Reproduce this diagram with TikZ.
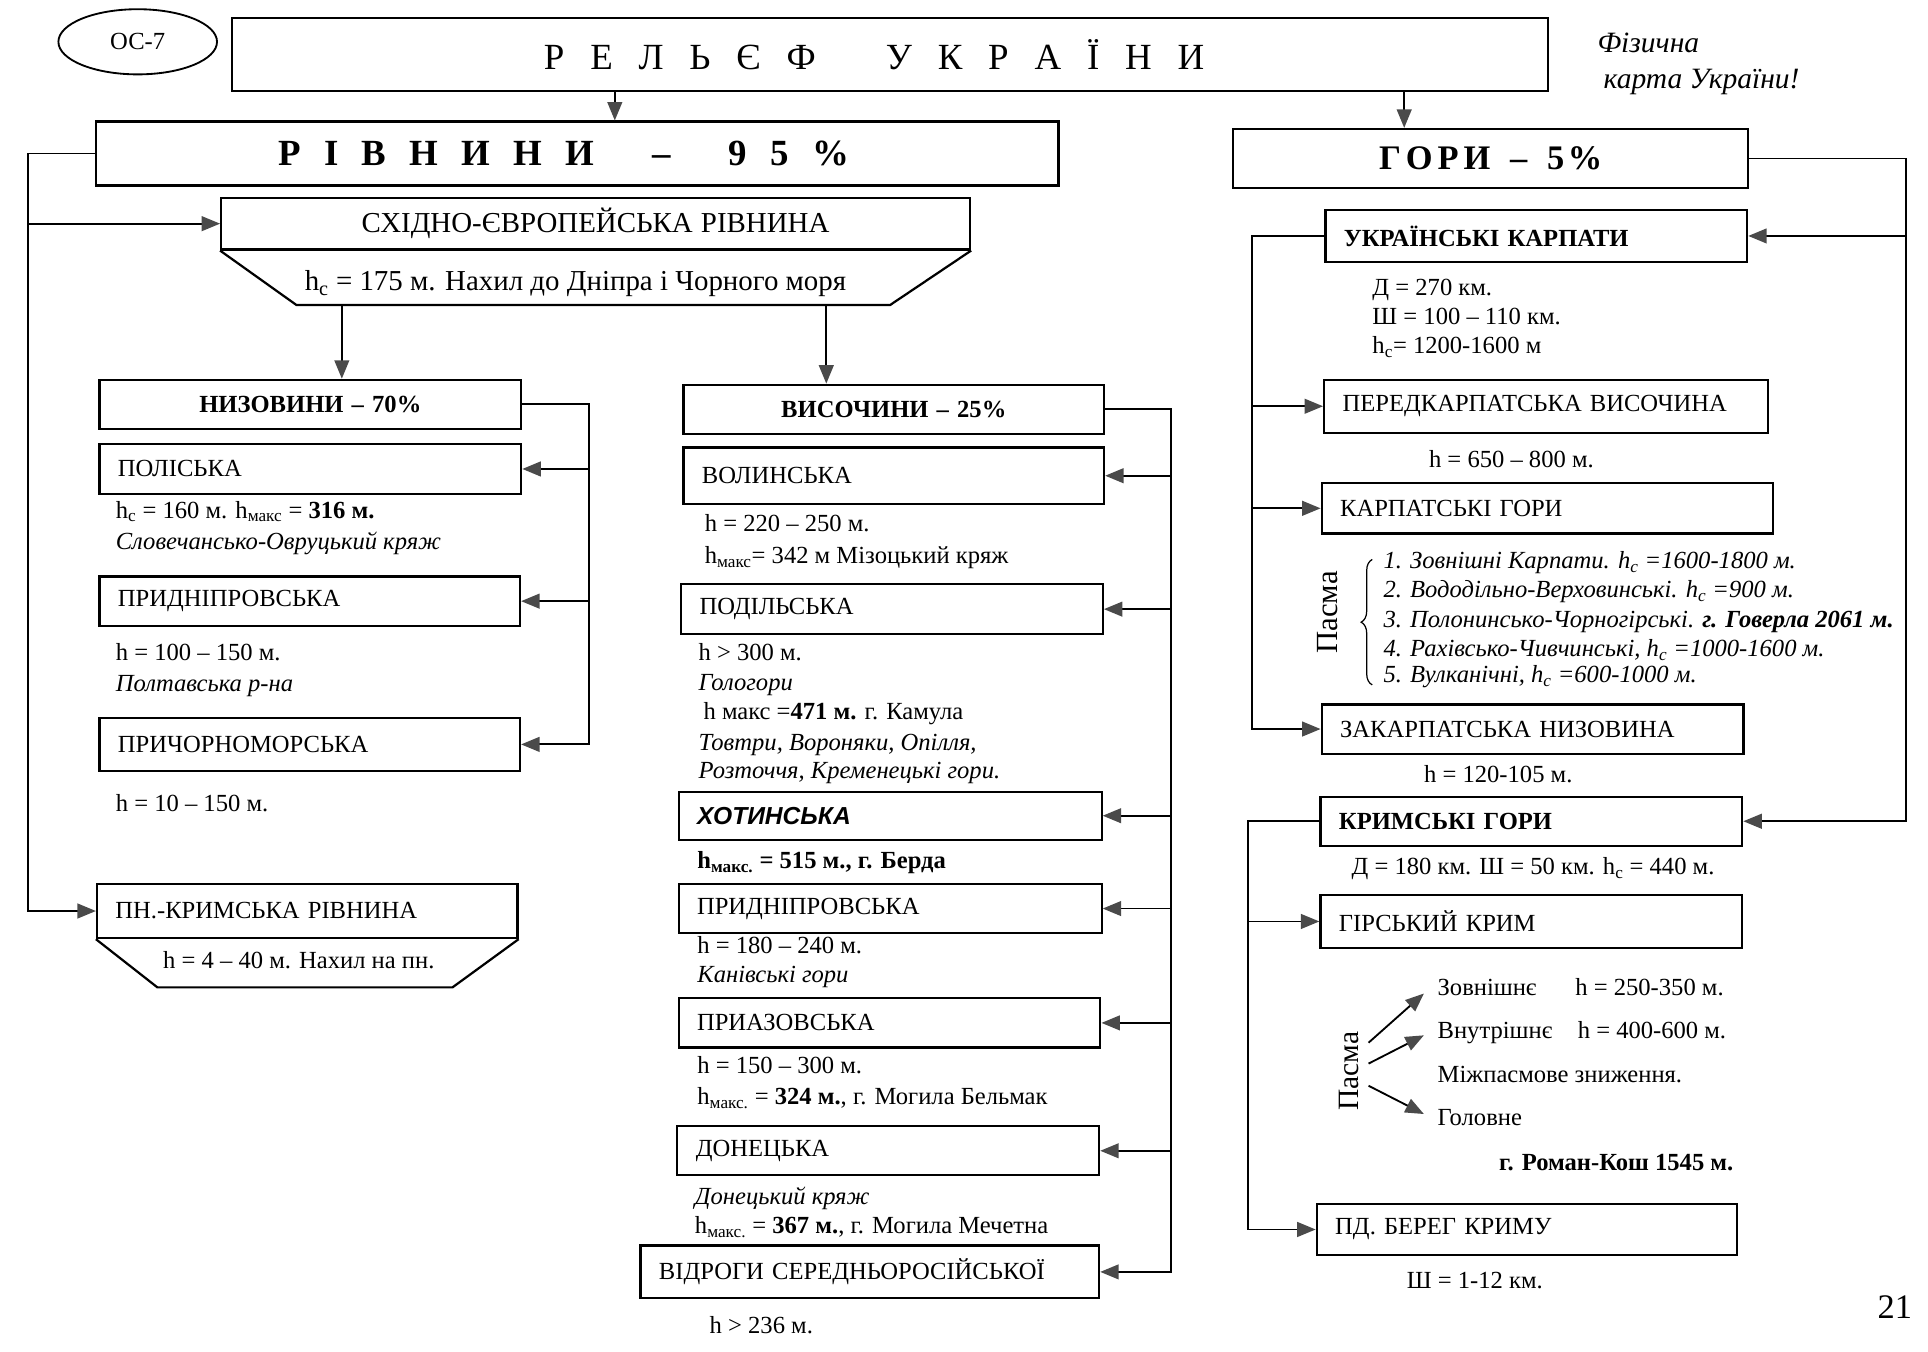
\documentclass[tikz,border=0pt]{standalone}
\usepackage{fontspec}
\setmainfont{Liberation Serif}
\newfontfamily\hsans{Liberation Sans}
\usetikzlibrary{arrows.meta,decorations.pathreplacing,shapes.geometric}
\definecolor{tipgray}{HTML}{4A4A4A}
\newcommand\tsp{\hspace{21pt}}
\newcommand\twd{\hspace{57pt}}
\newcommand\rsp{\hspace{19pt}}
\newcommand\rdsh{\hspace{47pt}}
% box: [align]{name}{x1}{y1}{x2}{y2}{text}
\newcommand\bx[7][left]{%
  \pgfmathsetmacro\bxw{#5-#3-30}\pgfmathsetmacro\bxh{#6-#4}%
  \node[box,align=#1,anchor=north west,text width=\bxw pt,minimum height=\bxh pt] (#2) at (#3,#4) {#7};}
\tikzset{
  box/.style={draw, line width=1.8pt, inner xsep=15pt, inner ysep=1pt, font=\fontsize{20}{24}\selectfont},
  lnk/.style={line width=1.5pt},
  arr/.style={line width=1.5pt, -{Triangle[length=15pt,width=12pt,color=tipgray]}},
  txt/.style={inner sep=0pt, anchor=mid west, font=\fontsize{20}{24}\selectfont},
  itx/.style={inner sep=0pt, anchor=mid west, font=\fontsize{20}{24}\selectfont\itshape},
}
\begin{document}
\begin{tikzpicture}[x=1pt,y=-1pt]
\fill[white] (0,0) rectangle (1568,1099);
\useasboundingbox (0,0) rectangle (1568,1099);

% header
\node[draw, ellipse, line width=1.5pt, minimum width=129pt, minimum height=53pt, font=\fontsize{20}{24}\selectfont] (oc) at (112,34) {ОС-7};
\node[box, anchor=north west, minimum width=1070pt, minimum height=59pt, inner xsep=0pt, font=\fontsize{30}{34}\selectfont] (title) at (188,14)
  {Р\tsp Е\tsp Л\tsp Ь\tsp Є\tsp Ф\twd У\tsp К\tsp Р\tsp А\tsp Ї\tsp Н\tsp И\kern26pt};
\node[itx, font=\fontsize{24}{28}\selectfont\itshape] (fiz1) at (1299,40) {Фізична};
\node[itx, font=\fontsize{24}{28}\selectfont\itshape] (fiz2) at (1304,70) {карта України!};

\node[box, anchor=north west, minimum width=783pt, minimum height=52pt, inner xsep=0pt, font=\fontsize{30}{34}\selectfont\bfseries] (riv) at (77,98)
  {Р\rsp І\rsp В\rsp Н\rsp И\rsp Н\rsp И\rdsh –\rdsh 9\rsp 5\rsp \%\kern22pt};
\node[box, anchor=north west, minimum width=419pt, minimum height=48pt, inner xsep=0pt, font=\fontsize{28}{32}\selectfont\bfseries] (gory) at (1002,104)
  {Г\hspace{4pt}О\hspace{4pt}Р\hspace{4pt}И\hspace{16pt}–\hspace{16pt}5\hspace{3pt}\%};

\coordinate (ta1) at (500,0);
\coordinate (ta2) at (1142,0);
\draw[arr] (title.south -| ta1) -- (ta1 |- riv.north);
\draw[arr] (title.south -| ta2) -- (ta2 |- gory.north);

% ===== plains =====
\bx[center]{sev}{179}{160}{788}{202}{\fontsize{23.5}{28}\selectfont СХІДНО-ЄВРОПЕЙСЬКА РІВНИНА}
\coordinate (sevbl) at (241,248);
\coordinate (sevbr) at (724,248);
\draw[line width=1.8pt] (sev.south west) -- (sevbl) -- (sevbr) -- (sev.south east);
\node[txt, anchor=mid, font=\fontsize{23.5}{28}\selectfont] (sevt) at (468,234) {h\textsubscript{с} = 175 м. Нахил до Дніпра і Чорного моря};

\coordinate (lbus) at (23,0);
\draw[lnk] (riv.west) -| (lbus |- sev.west);
\draw[arr] (lbus |- sev.west) -- (sev.west);

\bx[center]{niz}{80}{308}{423}{348}{\bfseries НИЗОВИНИ – 70\%}
\bx{pol}{80}{360}{423}{401}{ПОЛІСЬКА}
\bx{prd}{80}{468}{422}{508}{ПРИДНІПРОВСЬКА}
\bx{prch}{80}{583}{422}{626}{ПРИЧОРНОМОРСЬКА}
\bx{pnk}{78}{718}{420}{762}{ПН.-КРИМСЬКА РІВНИНА}
\coordinate (pnkbl) at (128,803);
\coordinate (pnkbr) at (368,803);
\draw[line width=1.8pt] (pnk.south west) -- (pnkbl) -- (pnkbr) -- (pnk.south east);
\node[txt, anchor=mid] (pnkt) at (243,785) {h = 4 – 40 м. Нахил на пн.};

\draw[arr] (lbus |- sev.west) -- (lbus |- pnk.west) -- (pnk.west);

\coordinate (sa1) at (278,248);
\coordinate (sa2) at (672,248);
\draw[arr] (sa1) -- (sa1 |- niz.north);

\coordinate (nbus) at (479,0);
\draw[arr] (niz.east) -| (nbus |- prch.east) -- (prch.east);
\draw[arr] (nbus |- pol.east) -- (pol.east);
\draw[arr] (nbus |- prd.east) -- (prd.east);

\node[txt] (t1) at (94,419) {h\textsubscript{с} = 160 м. h\textsubscript{макс} = \textbf{316 м.}};
\node[itx] (t2) at (94,445) {Словечансько-Овруцький кряж};
\node[txt] (t3) at (94,535) {h = 100 – 150 м.};
\node[itx] (t4) at (94,560) {Полтавська р-на};
\node[txt] (t5) at (94,658) {h = 10 – 150 м.};

% ===== uplands =====
\bx[center]{vys}{555}{312}{897}{352}{\bfseries ВИСОЧИНИ – 25\%}
\draw[arr] (sa2) -- (sa2 |- vys.north);
\bx{vol}{555}{363}{897}{409}{ВОЛИНСЬКА}
\bx{pod}{553}{474}{896}{515}{ПОДІЛЬСЬКА}
\bx{hot}{551}{643}{895}{682}{\hsans\bfseries\itshape ХОТИНСЬКА}
\bx{prd2}{551}{718}{895}{758}{ПРИДНІПРОВСЬКА}
\bx{priaz}{551}{811}{894}{851}{ПРИАЗОВСЬКА}
\bx{don}{550}{915}{893}{955}{ДОНЕЦЬКА}
\bx{vid}{520}{1012}{893}{1055}{ВІДРОГИ СЕРЕДНЬОРОСІЙСЬКОЇ}

\coordinate (vbus) at (952,0);
\draw[arr] (vys.east) -| (vbus |- vid.east) -- (vid.east);
\foreach \n in {vol,pod,hot,prd2,priaz,don}
  \draw[arr] (vbus |- \n.east) -- (\n.east);

\node[txt] (t6) at (573,430) {h = 220 – 250 м.};
\node[txt] (t7) at (573,456) {h\textsubscript{макс}= 342 м Мізоцький кряж};
\node[txt] (t8) at (568,535) {h > 300 м.};
\node[itx] (t9) at (568,559) {Гологори};
\node[txt] (t10) at (572,583) {h макс =\textbf{471 м.} г. Камула};
\node[itx] (t11) at (568,608) {Товтри, Вороняки, Опілля,};
\node[itx] (t12) at (568,631) {Розточчя, Кременецькі гори.};
\node[txt, font=\fontsize{20}{24}\selectfont\bfseries] (t13) at (567,704) {h\textsubscript{макс.} = 515 м., г. Берда};
\node[txt] (t14) at (567,773) {h = 180 – 240 м.};
\node[itx] (t15) at (567,797) {Канівські гори};
\node[txt] (t16) at (567,871) {h = 150 – 300 м.};
\node[txt] (t17) at (567,896) {h\textsubscript{макс.} = \textbf{324 м.}, г. Могила Бельмак};
\node[itx] (t18) at (565,977) {Донецький кряж};
\node[txt] (t19) at (565,1001) {h\textsubscript{макс.} = \textbf{367 м.}, г. Могила Мечетна};
\node[txt] (t20) at (577,1082) {h > 236 м.};

% ===== mountains =====
\bx{ukr}{1077}{170}{1420}{212}{\bfseries УКРАЇНСЬКІ КАРПАТИ}
\bx{perd}{1076}{308}{1437}{351}{ПЕРЕДКАРПАТСЬКА ВИСОЧИНА}
\bx{kg}{1074}{392}{1441}{433}{КАРПАТСЬКІ ГОРИ}
\bx{zak}{1074}{572}{1417}{612}{ЗАКАРПАТСЬКА НИЗОВИНА}
\bx{krg}{1073}{647}{1416}{687}{\bfseries КРИМСЬКІ ГОРИ}
\bx{gk}{1073}{727}{1416}{770}{ГІРСЬКИЙ КРИМ}
\bx{pdb}{1070}{978}{1412}{1020}{ПД. БЕРЕГ КРИМУ}

\coordinate (rbus) at (1550,0);
\draw[arr] (gory.east) -| (rbus |- krg.east) -- (krg.east);
\draw[arr] (rbus |- ukr.east) -- (ukr.east);

\coordinate (kbus) at (1018,0);
\draw[arr] (ukr.west) -| (kbus |- zak.west) -- (zak.west);
\draw[arr] (kbus |- perd.west) -- (perd.west);
\draw[arr] (kbus |- kg.west) -- (kg.west);

\coordinate (cbus) at (1015,0);
\draw[arr] (krg.west) -| (cbus |- pdb.west) -- (pdb.west);
\draw[arr] (cbus |- gk.west) -- (gk.west);

\node[txt] (r1) at (1116,238) {Д = 270 км.};
\node[txt] (r2) at (1116,262) {Ш = 100 – 110 км.};
\node[txt] (r3) at (1116,285) {h\textsubscript{с}= 1200-1600 м};
\node[txt] (r4) at (1162,378) {h = 650 – 800 м.};

\node[rotate=90, inner sep=0pt, font=\fontsize{25}{30}\selectfont] (pasma1) at (1080,498) {Пасма};
\coordinate (brb) at (1116,557);
\coordinate (brt) at (1116,455);
\draw[line width=1pt, decorate, decoration={brace, amplitude=9pt}] (brb) -- (brt);
\node[itx] (l1) at (1125,460) {1. Зовнішні Карпати. h\textsubscript{с} =1600-1800 м.};
\node[itx] (l2) at (1125,484) {2. Вододільно-Верховинські. h\textsubscript{с} =900 м.};
\node[itx] (l3) at (1125,508) {3. Полонинсько-Чорногірські. \textbf{г. Говерла 2061 м.}};
\node[itx] (l4) at (1125,532) {4. Рахівсько-Чивчинські, h\textsubscript{с} =1000-1600 м.};
\node[itx] (l5) at (1125,553) {5. Вулканічні, h\textsubscript{с} =600-1000 м.};

\node[txt] (r5) at (1158,634) {h = 120-105 м.};
\node[txt] (r6) at (1099,709) {Д = 180 км. Ш = 50 км. h\textsubscript{с} = 440 м.};

\node[rotate=90, inner sep=0pt, font=\fontsize{24}{28}\selectfont] (pasma2) at (1097,871) {Пасма};
\coordinate (p1s) at (1113,848); \coordinate (p1e) at (1158,808);
\coordinate (p2s) at (1113,865); \coordinate (p2e) at (1158,842);
\coordinate (p3s) at (1113,883); \coordinate (p3e) at (1158,906);
\draw[arr] (p1s) -- (p1e);
\draw[arr] (p2s) -- (p2e);
\draw[arr] (p3s) -- (p3e);
\node[txt] (c1) at (1169,807) {Зовнішнє};
\node[txt] (c1h) at (1281,807) {h = 250-350 м.};
\node[txt] (c2) at (1169,842) {Внутрішнє};
\node[txt] (c2h) at (1283,842) {h = 400-600 м.};
\node[txt] (c3) at (1169,878) {Міжпасмове зниження.};
\node[txt] (c4) at (1169,913) {Головне};
\node[txt, font=\fontsize{20}{24}\selectfont\bfseries] (c5) at (1219,950) {г. Роман-Кош 1545 м.};
\node[txt] (r7) at (1144,1046) {Ш = 1-12 км.};

\node[inner sep=0pt, font=\fontsize{28}{32}\selectfont] (page) at (1541,1063) {21};
\end{tikzpicture}
\end{document}
